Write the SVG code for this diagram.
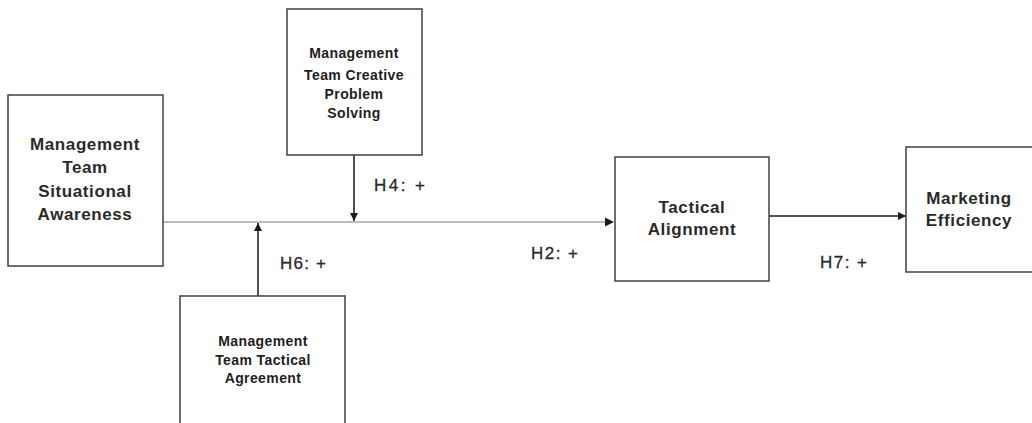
<svg xmlns="http://www.w3.org/2000/svg" width="1032" height="423" viewBox="0 0 1032 423">
  <defs>
    <style>
      .box { fill: #ffffff; stroke: #404040; stroke-width: 1.5; }
      .big { font-family: "Liberation Sans", Arial, sans-serif; font-size: 17px; font-weight: bold; fill: #2a2a2a; text-anchor: middle; letter-spacing: 0.6px; }
      .small { font-family: "Liberation Sans", Arial, sans-serif; font-size: 14px; font-weight: bold; fill: #1e1e1e; text-anchor: middle; letter-spacing: 0.4px; }
      .lbl { font-family: "Liberation Sans", Arial, sans-serif; font-size: 17px; fill: #2a2a2a; stroke: #2a2a2a; stroke-width: 0.3; }
      .main { stroke: #bdbdbd; stroke-width: 2; fill: none; }
      .edge { stroke: #1a1a1a; stroke-width: 1.5; fill: none; }
    </style>
    <marker id="head" viewBox="0 0 10 10" refX="10" refY="5" markerWidth="8" markerHeight="8" markerUnits="userSpaceOnUse" orient="auto">
      <path d="M0,0 L10,5 L0,10 z" fill="#1a1a1a"/>
    </marker>
  </defs>
  <rect width="1032" height="423" fill="#ffffff"/>

  <g id="connectors">
    <line class="main" x1="163" y1="222" x2="607" y2="222"/>
    <path d="M605,217.5 L614,222 L605,226.5 z" fill="#1a1a1a"/>
    <line class="edge" x1="354" y1="155" x2="354" y2="221" marker-end="url(#head)"/>
    <line class="edge" x1="258" y1="296" x2="258" y2="223" marker-end="url(#head)"/>
    <line class="edge" x1="769" y1="216" x2="906" y2="216" marker-end="url(#head)"/>
  </g>

  <g id="situational-awareness">
    <rect class="box" x="8" y="95" width="155" height="171"/>
    <text class="big" x="85" y="150">Management</text>
    <text class="big" x="85" y="173">Team</text>
    <text class="big" x="85" y="197">Situational</text>
    <text class="big" x="85" y="220">Awareness</text>
  </g>

  <g id="creative-problem-solving">
    <rect class="box" x="287" y="9" width="135" height="146"/>
    <text class="small" x="354" y="58">Management</text>
    <text class="small" x="354" y="80">Team Creative</text>
    <text class="small" x="354" y="99">Problem</text>
    <text class="small" x="354" y="118">Solving</text>
  </g>

  <g id="tactical-agreement">
    <path class="box" d="M180,430 L180,296 L345,296 L345,430"/>
    <text class="small" x="263" y="346">Management</text>
    <text class="small" x="263" y="365">Team Tactical</text>
    <text class="small" x="263" y="383">Agreement</text>
  </g>

  <g id="tactical-alignment">
    <rect class="box" x="615" y="157" width="154" height="124"/>
    <text class="big" x="692" y="213">Tactical</text>
    <text class="big" x="692" y="235">Alignment</text>
  </g>

  <g id="marketing-efficiency">
    <path class="box" d="M1040,147 L906,147 L906,272 L1040,272"/>
    <text class="big" x="969" y="204">Marketing</text>
    <text class="big" x="969" y="226">Efficiency</text>
  </g>

  <g id="labels">
    <text class="lbl" x="374" y="191" textLength="51" lengthAdjust="spacing">H4: +</text>
    <text class="lbl" x="280" y="269" textLength="46" lengthAdjust="spacing">H6: +</text>
    <text class="lbl" x="531" y="259" textLength="47" lengthAdjust="spacing">H2: +</text>
    <text class="lbl" x="820" y="268" textLength="47" lengthAdjust="spacing">H7: +</text>
  </g>
</svg>
